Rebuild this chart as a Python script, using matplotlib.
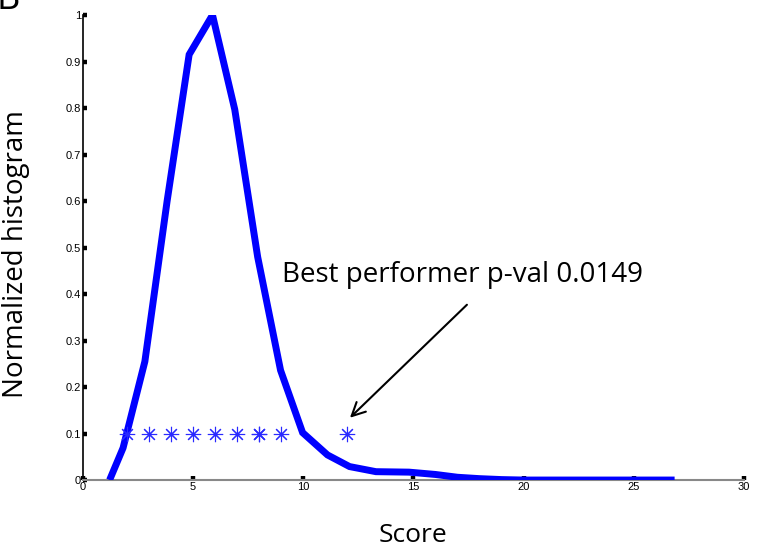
import numpy as np
import matplotlib
matplotlib.use("Agg")
import matplotlib.pyplot as plt

# histogram curve
score = [1.27, 1.82, 2.81, 3.82, 4.82, 5.88, 6.89, 7.93, 8.97, 9.97, 11.1, 12.1,
         13.3, 14.8, 16.0, 17.0, 18.0, 19.0, 20.0, 22.0, 24.0, 26.7]
hist = [0.007, 0.069, 0.255, 0.60, 0.915, 1.0, 0.797, 0.48, 0.236, 0.102, 0.054, 0.029,
        0.018, 0.017, 0.012, 0.006, 0.003, 0.001, 0.0, 0.0, 0.0, 0.0]

# performer markers (8 appears twice)
perf_x = [2, 3, 4, 5, 6, 7, 8, 8, 9, 12]
perf_y = [0.1] * len(perf_x)

xticks = [0, 5, 10, 15, 20, 25, 30]
yticks = [0, 0.1, 0.2, 0.3, 0.4, 0.5, 0.6, 0.7, 0.8, 0.9, 1]
ytick_labels = ["0", "0.1", "0.2", "0.3", "0.4", "0.5", "0.6", "0.7", "0.8", "0.9", "1"]

fig = plt.figure(figsize=(7.57, 5.48), dpi=100)
ax = fig.add_axes([0.1096, 0.124, 0.873, 0.8485])

ax.plot(score, hist, color="#0000ff", lw=5, solid_joinstyle="miter", zorder=3)
ax.plot(perf_x, perf_y, ls="none", marker=(8, 2, 0), ms=11, mew=0.8,
        color="#2a2aff", zorder=4)

ax.set_xlim(0, 30)
ax.set_ylim(0, 1)
ax.set_xticks(xticks)
ax.set_yticks(yticks)
ax.set_yticklabels(ytick_labels)
ax.tick_params(direction="in", length=3, width=3.2, labelsize=8, color="black",
               pad=1.5)
for lab in ax.get_xticklabels() + ax.get_yticklabels():
    lab.set_family("Liberation Sans")

ax.spines["top"].set_visible(False)
ax.spines["right"].set_visible(False)
ax.spines["left"].set_color("black")
ax.spines["left"].set_linewidth(1.2)
ax.spines["bottom"].set_color("#888888")
ax.spines["bottom"].set_linewidth(1.5)

lab_font = dict(family=["Open Sans", "DejaVu Sans"], size=19)
ax.set_xlabel("Score", labelpad=22, **lab_font)
ax.set_ylabel("Normalized histogram", family=["Open Sans", "DejaVu Sans"], size=20)
ax.yaxis.set_label_coords(-0.080, 0.485)

# annotation text and arrow
ax.text(9.03, 0.44, "Best performer p-val 0.0149", ha="left", va="center",
        fontsize=20, family=["Open Sans", "DejaVu Sans"])
ax.annotate("", xy=(12.12, 0.134), xytext=(17.43, 0.377),
            arrowprops=dict(arrowstyle="->", color="black", lw=1.5,
                            mutation_scale=24, shrinkA=0, shrinkB=0))

fig.text(-0.004, 1.0, "B", fontsize=26, family=["Open Sans", "DejaVu Sans"],
         ha="left", va="center")

fig.savefig("out.png", dpi=100)
